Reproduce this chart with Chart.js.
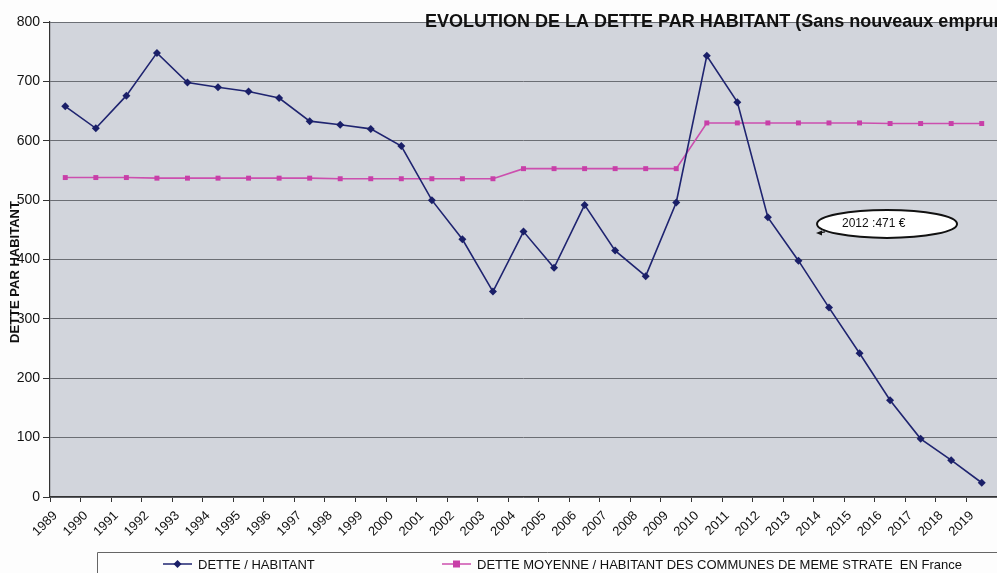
<!DOCTYPE html>
<html>
<head>
<meta charset="utf-8">
<script src="https://cdn.jsdelivr.net/npm/chart.js@4.4.1/dist/chart.umd.min.js"></script>
<style>
  html, body { margin: 0; padding: 0; background: #fdfdfd; overflow: hidden; }
  #wrap { position: relative; width: 997px; height: 573px; }
</style>
</head>
<body>
<div id="wrap"><canvas id="graphique-dette"></canvas></div>
<script>
const annees = ['1989', '1990', '1991', '1992', '1993', '1994', '1995', '1996', '1997', '1998', '1999', '2000',
  '2001', '2002', '2003', '2004', '2005', '2006', '2007', '2008', '2009', '2010', '2011', '2012', '2013',
  '2014', '2015', '2016', '2017', '2018', '2019'];
const detteHabitant = [658, 621, 676, 748, 698, 690, 683, 672, 633, 627, 620, 591, 500, 434, 346, 447,
  386, 492, 415, 372, 496, 743, 665, 471, 398, 319, 242, 163, 98, 62, 24];
const detteMoyenne = [538, 538, 538, 537, 537, 537, 537, 537, 537, 536, 536, 536, 536, 536, 536, 553,
  553, 553, 553, 553, 553, 630, 630, 630, 630, 630, 630, 629, 629, 629, 629];
const ticksY = [0, 100, 200, 300, 400, 500, 600, 700, 800];
const titre = 'EVOLUTION DE LA DETTE PAR HABITANT (Sans nouveaux emprunts)';
const titreAxeY = 'DETTE PAR HABITANT';
const bulle = { texte: '2012 :471 €', index: 26.9, valeur: 460 };

const police = '"Liberation Sans", Arial, sans-serif';

const fondGraphique = {
  id: 'fondGraphique',
  beforeDraw(chart) {
    const { ctx, chartArea: a } = chart;
    ctx.save();
    ctx.fillStyle = '#d2d5dc';
    ctx.fillRect(a.left, a.top, a.right - a.left, a.bottom - a.top);
    ctx.restore();
  }
};

const decor = {
  id: 'decor',
  afterDraw(chart) {
    const { ctx, scales } = chart;
    ctx.save();
    // titre
    ctx.fillStyle = '#111';
    ctx.font = 'bold 18px ' + police;
    ctx.textBaseline = 'middle';
    ctx.textAlign = 'left';
    ctx.fillText(titre, 425, 22);

    // titre axe Y
    ctx.save();
    ctx.translate(15, 272);
    ctx.rotate(-Math.PI / 2);
    ctx.textAlign = 'center';
    ctx.font = 'bold 13px ' + police;
    ctx.fillText(titreAxeY, 0, 0);
    ctx.restore();

    // bulle 2012
    const cx = scales.x.getPixelForValue(bulle.index);
    const cy = scales.y.getPixelForValue(bulle.valeur);
    ctx.beginPath();
    ctx.ellipse(cx, cy, 70, 14, 0, 0, Math.PI * 2);
    ctx.fillStyle = '#ffffff';
    ctx.fill();
    ctx.lineWidth = 2;
    ctx.strokeStyle = '#111';
    ctx.stroke();
    ctx.lineWidth = 1.2;
    ctx.beginPath();
    ctx.moveTo(cx - 62, cy + 8);
    ctx.lineTo(cx - 68, cy + 9);
    ctx.stroke();
    ctx.beginPath();
    ctx.moveTo(cx - 71, cy + 9);
    ctx.lineTo(cx - 65, cy + 6.5);
    ctx.lineTo(cx - 65, cy + 11.5);
    ctx.closePath();
    ctx.fillStyle = '#111';
    ctx.fill();
    ctx.font = '12px ' + police;
    ctx.textAlign = 'left';
    ctx.fillText(bulle.texte, cx - 45, cy);

    // legende
    ctx.strokeStyle = '#666';
    ctx.lineWidth = 1;
    ctx.beginPath();
    ctx.moveTo(97.5, 573);
    ctx.lineTo(97.5, 552.5);
    ctx.lineTo(997, 552.5);
    ctx.stroke();
    const items = [
      { ds: chart.data.datasets[0], x: 163 },
      { ds: chart.data.datasets[1], x: 442 }
    ];
    const ly = 564;
    ctx.font = '13px ' + police;
    items.forEach(it => {
      ctx.strokeStyle = it.ds.borderColor;
      ctx.lineWidth = 1.5;
      ctx.beginPath();
      ctx.moveTo(it.x, ly);
      ctx.lineTo(it.x + 29, ly);
      ctx.stroke();
      ctx.fillStyle = it.ds.pointBackgroundColor;
      const mx = it.x + 14.5;
      if (it.ds.pointStyle === 'rectRot') {
        ctx.beginPath();
        ctx.moveTo(mx, ly - 4);
        ctx.lineTo(mx + 4, ly);
        ctx.lineTo(mx, ly + 4);
        ctx.lineTo(mx - 4, ly);
        ctx.closePath();
        ctx.fill();
      } else {
        ctx.fillRect(mx - 3.5, ly - 3.5, 7, 7);
      }
      ctx.fillStyle = '#111';
      ctx.fillText(it.ds.label, it.x + 35, ly + 1);
    });
    ctx.restore();
  }
};

const ctxDette = document.getElementById('graphique-dette').getContext('2d');
const detteChart = new Chart(ctxDette, {
  type: 'line',
  data: {
    labels: annees,
    datasets: [{
      label: 'DETTE / HABITANT',
      data: detteHabitant,
      borderColor: '#1f2470',
      backgroundColor: '#1f2470',
      pointBackgroundColor: '#1a1f68',
      pointBorderColor: '#1a1f68',
      pointStyle: 'rectRot',
      pointRadius: 4,
      pointBorderWidth: 0,
      borderWidth: 1.6,
      tension: 0
    }, {
      label: 'DETTE MOYENNE / HABITANT DES COMMUNES DE MEME STRATE  EN France',
      data: detteMoyenne,
      borderColor: '#cc4fae',
      backgroundColor: '#c83fa8',
      pointBackgroundColor: '#c83fa8',
      pointBorderColor: '#c83fa8',
      pointStyle: 'rect',
      pointRadius: 3.5,
      pointBorderWidth: 0,
      borderWidth: 1.6,
      tension: 0
    }]
  },
  options: {
    responsive: true,
    maintainAspectRatio: false,
    animation: false,
    layout: { autoPadding: false, padding: { top: 22, right: 0, left: 0, bottom: 0 } },
    plugins: {
      legend: { display: false },
      title: { display: false },
      tooltip: { enabled: false }
    },
    scales: {
      x: {
        offset: true,
        afterFit(scale) {
          scale.height = 76;
          scale.paddingRight = 0;
          scale.paddingLeft = 0;
        },
        grid: {
          offset: true,
          drawOnChartArea: false,
          drawTicks: true,
          tickLength: 5,
          color: '#333'
        },
        border: { color: '#333', width: 1.2 },
        ticks: {
          autoSkip: false,
          maxRotation: 45,
          minRotation: 45,
          labelOffset: -10,
          padding: 6,
          color: '#111',
          font: { family: police, size: 13 }
        }
      },
      y: {
        min: 0,
        max: 800,
        afterFit(scale) { scale.width = 50; },
        afterBuildTicks(scale) { scale.ticks = ticksY.map(v => ({ value: v })); },
        grid: {
          color: '#6b6e74',
          lineWidth: 1,
          tickLength: 7,
          tickColor: '#333'
        },
        border: { color: '#333', width: 1.2 },
        ticks: {
          padding: 3,
          color: '#111',
          font: { family: police, size: 14 }
        }
      }
    }
  },
  plugins: [fondGraphique, decor]
});
</script>
</body>
</html>
